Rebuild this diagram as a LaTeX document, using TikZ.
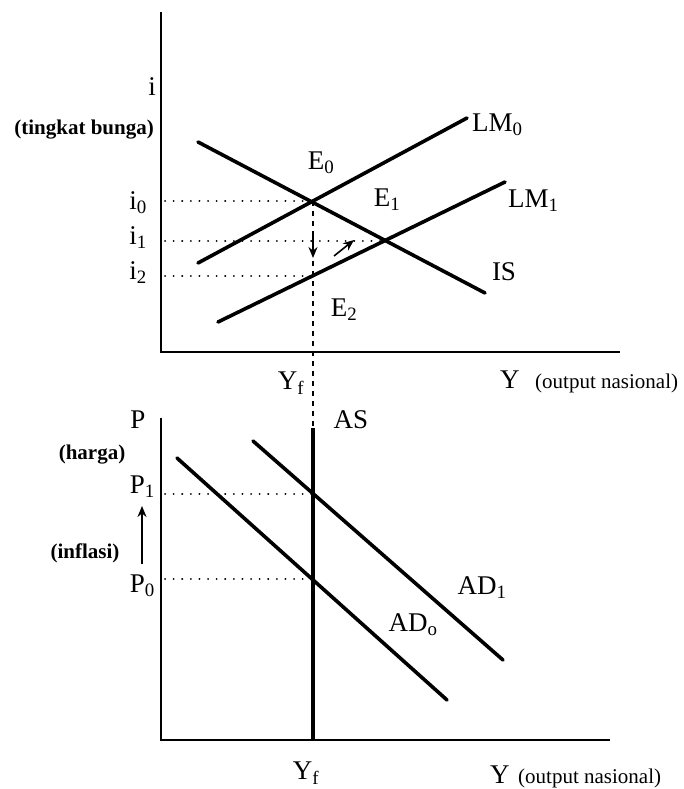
\documentclass[tikz,border=0pt]{standalone}
\usepackage{fontspec}
\setmainfont{Liberation Serif}
\usetikzlibrary{arrows.meta}
\tikzset{
  curve/.style={line width=3.6pt, line cap=round},
  axis/.style={line width=1.8pt},
  guide/.style={line width=2pt, line cap=round, dash pattern=on 0.1pt off 8.5pt},
  yfline/.style={line width=1.3pt, dash pattern=on 5pt off 5pt},
  lbl/.style={inner sep=0pt, font=\fontsize{27}{27}\selectfont},
  small/.style={inner sep=0pt, font=\fontsize{21}{21}\selectfont\bfseries},
  smallr/.style={inner sep=0pt, font=\fontsize{21}{21}\selectfont},
  arr/.style={line width=1.6pt, -{Stealth[length=11pt,width=9pt]}}
}
\begin{document}
\begin{tikzpicture}[x=1pt,y=-1pt]
\useasboundingbox (0,0) rectangle (684,789);
% ---------- top graph ----------
\coordinate (topY) at (161,12);
\coordinate (O1) at (161,352);
\coordinate (topX) at (620,352);
\draw[axis] (topY) -- (O1) -- (topX);
\coordinate (IS1) at (198,142);
\coordinate (IS2) at (485,293);
\coordinate (LMa1) at (198,263);
\coordinate (LMa2) at (467,118);
\coordinate (LMb1) at (218,322);
\coordinate (LMb2) at (505,182);
\coordinate (E0) at (313,201);
\coordinate (E1) at (383,241);
\coordinate (E2p) at (313,276);
\coordinate (ax0) at (165,201);
\coordinate (ax1) at (165,241);
\coordinate (ax2) at (165,276);
\draw[guide] (ax0) -- (E0);
\draw[guide] (ax1) -- (E1);
\draw[guide] (ax2) -- (E2p);
\draw[curve] (IS1) -- (IS2);
\draw[curve] (LMa1) -- (LMa2);
\draw[curve] (LMb1) -- (LMb2);
\coordinate (ASt) at (313,428);
\coordinate (ASb) at (313,740);
\draw[yfline] (E0) -- (ASt);
\coordinate (d1) at (313,236);
\coordinate (d2) at (313,258);
\draw[arr] (d1) -- (d2);
\coordinate (g1) at (334,256);
\coordinate (g2) at (354,240);
\draw[arr] (g1) -- (g2);
\node[lbl] (li) at (152,87) {i};
\node[small, anchor=east] (lbunga) at (154,130) {(tingkat bunga)};
\node[lbl] (lE0) at (321,163) {E\textsubscript{0}};
\node[lbl] (lE1) at (387,200) {E\textsubscript{1}};
\node[lbl] (lE2) at (344,310) {E\textsubscript{2}};
\node[lbl, anchor=east] (li0) at (147,203) {i\textsubscript{0}};
\node[lbl, anchor=east] (li1) at (147,238) {i\textsubscript{1}};
\node[lbl, anchor=east] (li2) at (147,273) {i\textsubscript{2}};
\node[lbl, anchor=west] (lLM0) at (472,125) {LM\textsubscript{0}};
\node[lbl, anchor=west] (lLM1) at (508,201) {LM\textsubscript{1}};
\node[lbl] (lIS) at (504,272) {IS};
\node[lbl] (lYf1) at (291,383) {Y\textsubscript{f}};
\node[lbl, anchor=base west] (lY1) at (500,388) {Y};
\node[smallr, anchor=base west] (lout1) at (535,388) {(output nasional)};
% ---------- bottom graph ----------
\coordinate (botY) at (161,418);
\coordinate (O2) at (161,740);
\coordinate (botX) at (610,740);
\draw[axis] (botY) -- (O2) -- (botX);
\coordinate (P0c) at (313,579);
\coordinate (P1c) at (313,494);
\coordinate (bx0) at (165,579);
\coordinate (bx1) at (165,494);
\draw[guide] (bx1) -- (P1c);
\draw[guide] (bx0) -- (P0c);
\coordinate (AD01) at (177,458);
\coordinate (AD02) at (447,700);
\coordinate (AD11) at (253,441);
\coordinate (AD12) at (503,660);
\draw[curve] (AD01) -- (AD02);
\draw[curve] (AD11) -- (AD12);
\draw[line width=4.4pt] (ASt) -- (ASb);
\coordinate (u1) at (142,564);
\coordinate (u2) at (142,506);
\draw[arr] (u1) -- (u2);
\node[lbl] (lP) at (138,420) {P};
\node[small] (lharga) at (92,455) {(harga)};
\node[lbl, anchor=east] (lP1) at (155,487) {P\textsubscript{1}};
\node[lbl, anchor=east] (lP0) at (155,586) {P\textsubscript{0}};
\node[small] (linf) at (85,553) {(inflasi)};
\node[lbl] (lAS) at (351,420) {AS};
\node[lbl] (lAD1) at (482,588) {AD\textsubscript{1}};
\node[lbl] (lAD0) at (413,625) {AD\textsubscript{o}};
\node[lbl] (lYf2) at (306,773) {Y\textsubscript{f}};
\node[lbl, anchor=base west] (lY2) at (490,783) {Y};
\node[smallr, anchor=base west] (lout2) at (518,783) {(output nasional)};
\end{tikzpicture}
\end{document}
